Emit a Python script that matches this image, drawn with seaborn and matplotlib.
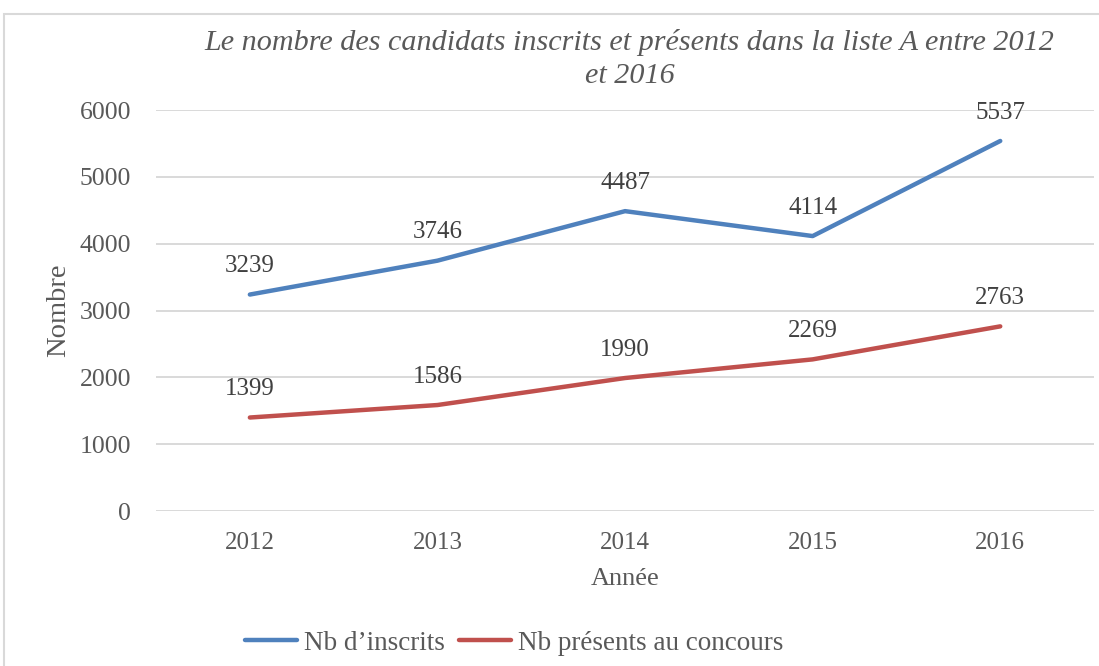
import matplotlib
matplotlib.use("Agg")
import matplotlib.pyplot as plt
import seaborn as sns
import pandas as pd
from matplotlib.patches import Rectangle

years = ["2012", "2013", "2014", "2015", "2016"]
inscrits = [3239, 3746, 4487, 4114, 5537]
presents = [1399, 1586, 1990, 2269, 2763]
series_names = ["Nb d\u2019inscrits", "Nb présents au concours"]
colors = ["#4F81BD", "#C0504D"]

title = "Le nombre des candidats inscrits et présents dans la liste A entre 2012\net 2016"
xlabel = "Année"
ylabel = "Nombre"

sns.set_theme(style="white")
plt.rcParams["font.family"] = ["Liberation Serif", "DejaVu Serif"]

df = pd.DataFrame({
    "Année": years * 2,
    "Nombre": inscrits + presents,
    "Série": [series_names[0]] * len(years) + [series_names[1]] * len(years),
})

fig = plt.figure(figsize=(10.99, 6.66), dpi=100)
ax = fig.add_axes([0.142, 0.2327, 0.8535, 0.6021])

sns.lineplot(data=df, x="Année", y="Nombre", hue="Série", palette=colors,
             linewidth=3.2, ax=ax, sort=False, legend=True)

ax.set_ylim(0, 6000)
ax.set_xlim(-0.5, len(years) - 0.5)
ax.set_yticks(range(0, 6001, 1000))
ax.grid(axis="y", color="#D9D9D9", linewidth=1.4)
ax.set_axisbelow(True)
for s in ax.spines.values():
    s.set_visible(False)
ax.tick_params(axis="x", length=0, labelsize=18, colors="#595959", pad=15)
ax.tick_params(axis="y", length=0, labelsize=18.5, colors="#595959", pad=18)

txtc = "#404040"
for vals in (inscrits, presents):
    for i, v in enumerate(vals):
        ax.annotate(str(v), (i, v), xytext=(0, 12.5), textcoords="offset points",
                    ha="center", va="bottom", fontsize=18, color=txtc)

ax.set_xlabel(xlabel, fontsize=19, color="#595959", labelpad=10)
ax.set_ylabel(ylabel, fontsize=20.5, color="#595959", labelpad=6)

fig.text(0.573, 0.9115, title, ha="center", va="center", fontsize=21.7,
         style="italic", color="#595959", linespacing=1.33)

handles, labels = ax.get_legend_handles_labels()
ax.legend(handles, labels, loc="center", bbox_to_anchor=(0.3817, -0.33),
          ncol=2, frameon=False, fontsize=19.5, handlelength=1.9,
          columnspacing=0.55, handletextpad=0.25, labelcolor="#595959")

fig.patches.append(Rectangle((4 / 1099, -0.1), 1.2, 1 - 14 / 666 + 0.1,
                             transform=fig.transFigure, fill=False,
                             edgecolor="#D9D9D9", linewidth=1.5))

fig.savefig("out.png", dpi=100)
